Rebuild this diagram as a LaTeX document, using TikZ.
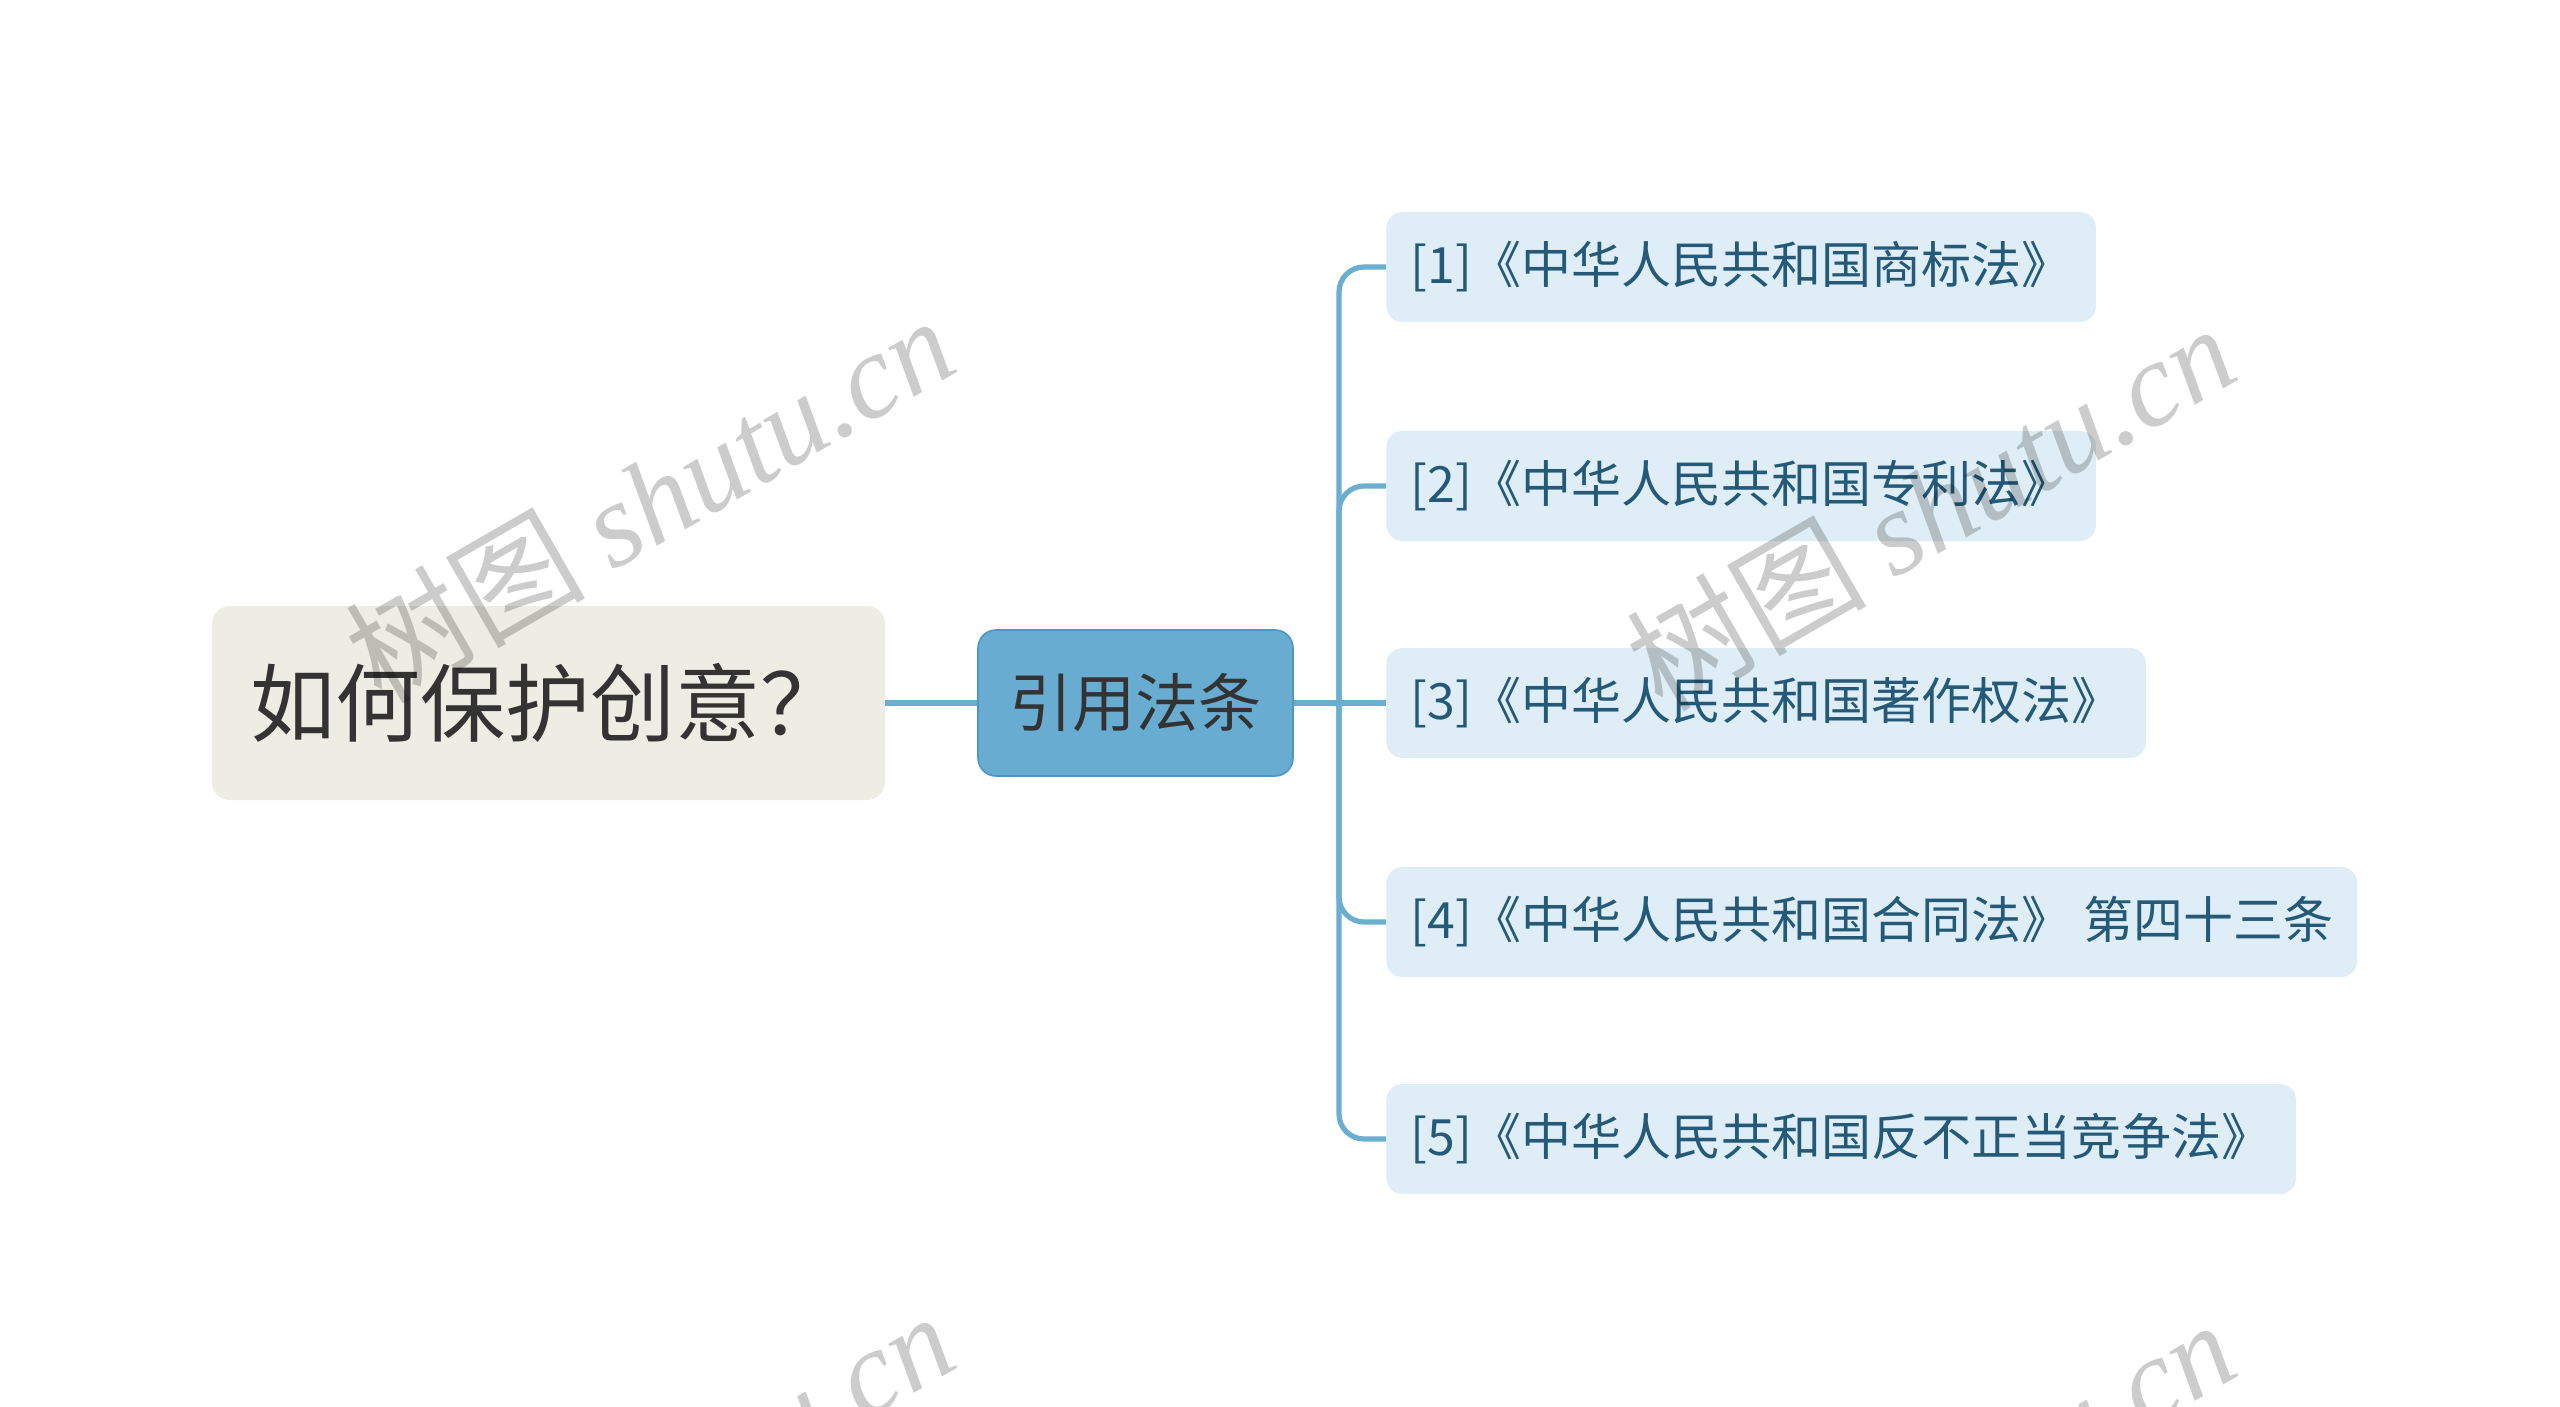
\documentclass[tikz,border=0pt]{standalone}
\usepackage{fontspec}
\setmainfont{Noto Sans CJK SC}
\newfontfamily\wmserif{Liberation Serif}
\newfontfamily\wmcjk{Noto Sans CJK SC}
\definecolor{rootfill}{HTML}{EDEDE4}
\definecolor{roottext}{HTML}{333333}
\definecolor{midfill}{HTML}{68ADD1}
\definecolor{midborder}{HTML}{4F97C0}
\definecolor{childfill}{HTML}{DFEEF6}
\definecolor{childtext}{HTML}{245A78}
\definecolor{conn}{HTML}{6AAED0}
\begin{document}
\begin{tikzpicture}[x=0.5pt,y=-0.5pt,
  rootbox/.style={fill=rootfill, rounded corners=9pt, minimum width=336.5pt, minimum height=97pt,
    inner xsep=19pt, inner ysep=0pt, text=roottext, font=\fontsize{42.5}{48}\selectfont},
  midbox/.style={fill=midfill, draw=midborder, line width=0.8pt, rounded corners=9pt,
    minimum width=157.5pt, minimum height=73pt, inner sep=0pt, text=roottext,
    font=\fontsize{31.6}{36}\selectfont},
  childbox/.style={fill=childfill, rounded corners=8pt, minimum height=55pt, inner xsep=12pt,
    inner ysep=0pt, text=childtext, anchor=west, font=\fontsize{25}{30}\selectfont},
  connline/.style={draw=conn, line width=2.6pt},
  wm/.style={text=black, opacity=0.2, rotate=30, font=\fontsize{60}{66}\selectfont}
]
\useasboundingbox (0,0) rectangle (2560,1407);
\fill[white] (0,0) rectangle (2560,1407);

\node[rootbox] (root) at (548.5,703) {\makebox[298.5pt][l]{如何保护创意？}};
\node[midbox] (mid) at (1135.5,703) {引用法条};
\coordinate (j) at (1339,703);

\node[childbox] (c1) at (1386,267) {[1]《中华人民共和国商标法》};
\node[childbox] (c2) at (1386,486) {[2]《中华人民共和国专利法》};
\node[childbox] (c3) at (1386,703) {[3]《中华人民共和国著作权法》};
\node[childbox] (c4) at (1386,922) {[4]《中华人民共和国合同法》 第四十三条};
\node[childbox] (c5) at (1386,1139) {[5]《中华人民共和国反不正当竞争法》};

\draw[connline] (root.east) -- (mid.west);
\draw[connline] (mid.east) -- (j);
\draw[connline, rounded corners=12.5pt] (j) |- (c1.west);
\draw[connline, rounded corners=12.5pt] (j) |- (c2.west);
\draw[connline] (j) -- (c3.west);
\draw[connline, rounded corners=12.5pt] (j) |- (c4.west);
\draw[connline, rounded corners=12.5pt] (j) |- (c5.west);

\begin{scope}
\clip (0,0) rectangle (2560,1407);
\node[wm] (wm1) at (649,498) {{\wmcjk 树图} {\wmserif\itshape shutu.cn}};
\node[wm] (wm2) at (1930,506) {{\wmcjk 树图} {\wmserif\itshape shutu.cn}};
\node[wm] (wm3) at (649,1494) {{\wmcjk 树图} {\wmserif\itshape shutu.cn}};
\node[wm] (wm4) at (1930,1502) {{\wmcjk 树图} {\wmserif\itshape shutu.cn}};
\end{scope}
\end{tikzpicture}
\end{document}
